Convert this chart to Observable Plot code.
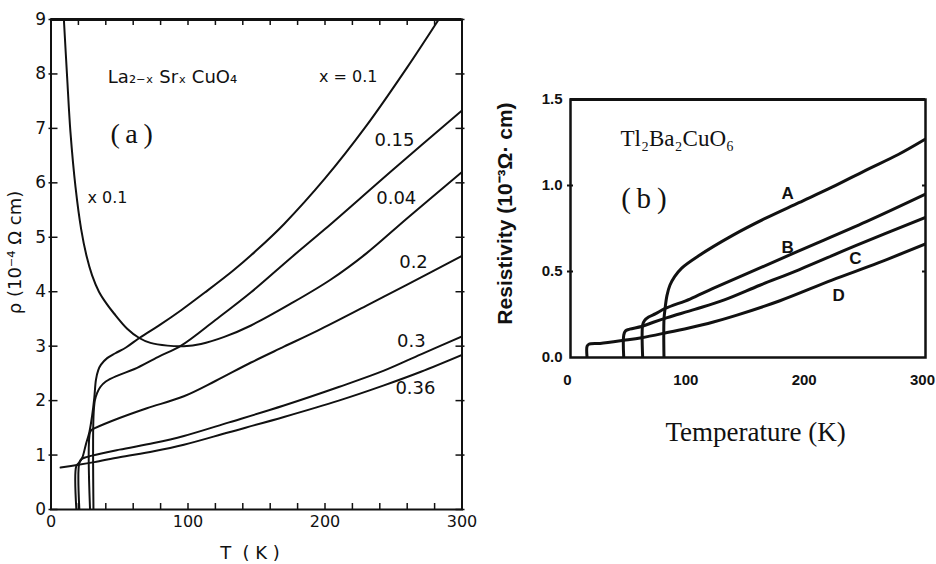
<!DOCTYPE html>
<html><head><meta charset="utf-8">
<script src="https://cdn.jsdelivr.net/npm/d3@7"></script>
<script src="https://cdn.jsdelivr.net/npm/@observablehq/plot@0.6"></script>
<style>
html,body{margin:0;padding:0;background:#fff;}
#wrap{position:relative;width:936px;height:564px;overflow:hidden;background:#fff;}
#pa{position:absolute;left:0;top:0;width:477px;height:564px;overflow:hidden;}
#pb{position:absolute;left:480px;top:0;width:456px;height:564px;overflow:hidden;}
</style></head><body>
<div id="wrap"><div id="pa"></div><div id="pb"></div></div>
<script>
// ---------- Panel (a): La2-xSrxCuO4, rho (10^-4 ohm cm) vs T (K) ----------
const seriesA = ["x=0.1", "0.15", "0.04", "0.2", "0.3", "0.36"];
const curveA_010 = [[18.5,0],[18.5,0.8],[20.5,0.86],[22.8,0.95],[25.5,1.2],[28,1.42],[30,1.72],[31.6,2.05],[32.8,2.38],[34.5,2.56],[36.5,2.66],[41,2.78],[47,2.87],[55,2.98],[65,3.16],[80,3.40],[95,3.66],[112,3.98],[133,4.39],[150,4.76],[170,5.24],[200,6.08],[230,7.04],[260,8.12],[283,9.0]];
const curveA_015 = [[31,0],[31,1.7],[32,2.0],[33.7,2.14],[36,2.25],[40,2.35],[48.6,2.46],[61,2.58],[78,2.8],[95,3.01],[120,3.48],[146,3.99],[175,4.62],[200,5.15],[250,6.25],[300,7.33]];
const curveA_004 = [[9.4,9.0],[11.8,7.93],[14.2,6.93],[17.9,5.92],[22,5.15],[26,4.65],[30,4.3],[35,4.0],[40,3.8],[46,3.6],[55.6,3.32],[64.4,3.15],[72.6,3.06],[85,3.01],[97,3.0],[109.5,3.04],[126.5,3.17],[146,3.38],[175,3.78],[204,4.22],[230,4.7],[260,5.35],[300,6.2]];
const curveA_020 = [[28.5,0],[28.5,1.42],[30,1.47],[31.6,1.49],[50,1.68],[70,1.86],[97,2.08],[120,2.36],[146,2.70],[170,2.99],[195,3.29],[230,3.74],[260,4.13],[300,4.66]];
const curveA_030 = [[20.7,0],[20.7,0.86],[22.5,0.93],[30,0.99],[50,1.1],[75,1.22],[97,1.35],[130,1.6],[170,1.91],[210,2.25],[243,2.55],[270,2.85],[300,3.18]];
const curveA_036 = [[7,0.77],[20,0.82],[31.6,0.87],[50,0.96],[75,1.07],[97,1.19],[130,1.42],[170,1.70],[210,2.0],[243,2.28],[270,2.53],[300,2.84]];
const curvesA = [curveA_010, curveA_015, curveA_004, curveA_020, curveA_030, curveA_036];
const tTicksA = [0, 100, 200, 300];
const tMinorA = d3.range(0, 301, 20);
const rhoTicksA = [0,1,2,3,4,5,6,7,8,9];

// ---------- Panel (b): Tl2Ba2CuO6, resistivity (10^-3 ohm cm) vs T (K) ----------
const seriesB = ["A", "B", "C", "D"];
const curveB_A = [[79,0],[79,0.22],[80,0.29],[81.5,0.36],[84,0.42],[88,0.47],[94,0.52],[108,0.59],[137,0.71],[165,0.81],[193,0.90],[221,0.99],[249,1.087],[277,1.18],[300,1.27]];
const curveB_B = [[61,0],[61,0.19],[62.5,0.215],[66,0.235],[72,0.255],[80,0.285],[101,0.34],[120,0.40],[150,0.49],[193,0.62],[250,0.79],[300,0.95]];
const curveB_C = [[45,0],[45,0.13],[46.5,0.155],[50,0.165],[60,0.18],[70,0.205],[81.7,0.232],[105,0.28],[130,0.335],[160,0.42],[193,0.51],[241,0.65],[300,0.815]];
const curveB_D = [[14,0],[14,0.065],[15.5,0.077],[25,0.082],[45,0.1],[60,0.115],[81.7,0.145],[100,0.172],[120,0.205],[140,0.245],[177,0.33],[221,0.45],[260,0.55],[300,0.66]];
const curvesB = [curveB_A, curveB_B, curveB_C, curveB_D];
const tTicksB = [0, 100, 200, 300];
const rhoTicksB = [0, 0.5, 1.0, 1.5];
const rhoMinorB = [0.5, 1.0];

const rowsA = seriesA.flatMap((s, i) => curvesA[i].map(([t, r]) => ({series: s, t, r})));
const rowsB = seriesB.flatMap((s, i) => curvesB[i].map(([t, r]) => ({series: s, t, r})));

const ink = "#111";
const sans = "DejaVu Sans";
const serif = "'Liberation Serif', 'DejaVu Serif', serif";

// panel (a) geometry
const A = {w: 477, h: 564, mt: 19, mr: 15.5, mb: 55, ml: 50.5};
const aPW = A.w - A.ml - A.mr, aPH = A.h - A.mt - A.mb;

const plotA = Plot.plot({
  width: A.w, height: A.h,
  marginTop: A.mt, marginRight: A.mr, marginBottom: A.mb, marginLeft: A.ml,
  x: {domain: [0, 300]}, y: {domain: [0, 9]},
  style: {fontFamily: sans, background: "white", color: ink},
  marks: [
    Plot.frame({stroke: ink, strokeWidth: 2}),
    Plot.ruleY([9], {stroke: ink, strokeWidth: 3}),
    Plot.tickX(tMinorA, {x: d => d, insetTop: aPH - 6, stroke: ink, strokeWidth: 1.5}),
    Plot.tickX(tMinorA, {x: d => d, insetBottom: aPH - 6, stroke: ink, strokeWidth: 1.5}),
    Plot.tickY(rhoTicksA, {y: d => d, insetLeft: -2, insetRight: aPW - 7, stroke: ink, strokeWidth: 1.5}),
    Plot.tickY(rhoTicksA, {y: d => d, insetLeft: aPW - 6, insetRight: -3, stroke: ink, strokeWidth: 1.5}),
    Plot.axisX(tTicksA, {tickSize: 0, tickPadding: 6, fontSize: 16, fontFamily: sans, tickFormat: d => String(d), label: null}),
    Plot.axisY(rhoTicksA, {tickSize: 0, tickPadding: 5, fontSize: 17, fontFamily: sans, tickFormat: d => String(d), label: null}),
    Plot.line(rowsA, {x: "t", y: "r", z: "series", curve: "catmull-rom", stroke: ink, strokeWidth: 2, clip: true}),
    Plot.text(["La₂₋ₓ Srₓ CuO₄"], {x: 88.7, y: 7.94, text: d => d, fontSize: 18, fontFamily: sans}),
    Plot.text(["(\u2009a\u2009)"], {x: 58.8, y: 6.9, text: d => d, fontSize: 28, fontFamily: serif}),
    Plot.text(["x 0.1"], {x: 41.2, y: 5.73, text: d => d, fontSize: 16, fontFamily: sans}),
    Plot.text(["x = 0.1"], {x: 217, y: 7.94, text: d => d, fontSize: 16, fontFamily: sans}),
    Plot.text(["0.15"], {x: 250.7, y: 6.78, text: d => d, fontSize: 18, fontFamily: sans}),
    Plot.text(["0.04"], {x: 252, y: 5.71, text: d => d, fontSize: 18, fontFamily: sans}),
    Plot.text(["0.2"], {x: 264.6, y: 4.54, text: d => d, fontSize: 18, fontFamily: sans}),
    Plot.text(["0.3"], {x: 263, y: 3.09, text: d => d, fontSize: 18, fontFamily: sans}),
    Plot.text(["0.36"], {x: 266, y: 2.22, text: d => d, fontSize: 18, fontFamily: sans}),
    Plot.text(["ρ (10⁻⁴ Ω cm)"], {frameAnchor: "left", textAnchor: "middle", lineAnchor: "middle", rotate: -90, dx: -35.5, dy: -12, text: d => d, fontSize: 18, fontFamily: sans}),
    Plot.text(["T  ( K )"], {frameAnchor: "bottom", textAnchor: "middle", lineAnchor: "middle", dx: -3 - (A.mr - 8.5) / 2, dy: 44, text: d => d, fontSize: 18, fontFamily: sans})
  ]
});
document.getElementById("pa").appendChild(plotA);

// panel (b) geometry
const B = {w: 456, h: 564, mt: 99, mr: 11, mb: 207, ml: 90};
const bPW = B.w - B.ml - B.mr, bPH = B.h - B.mt - B.mb;
const bsans = "Liberation Sans";

const plotB = Plot.plot({
  width: B.w, height: B.h,
  marginTop: B.mt, marginRight: B.mr, marginBottom: B.mb, marginLeft: B.ml,
  x: {domain: [0, 300]}, y: {domain: [0, 1.5]},
  style: {fontFamily: bsans, background: "white", color: ink},
  marks: [
    Plot.frame({stroke: ink, strokeWidth: 2.5}),
    Plot.ruleY([1.5], {stroke: ink, strokeWidth: 3}),
    Plot.tickY(rhoMinorB, {y: d => d, insetLeft: -3, insetRight: bPW - 3, stroke: ink, strokeWidth: 2}),
    Plot.tickY(rhoMinorB, {y: d => d, insetLeft: bPW - 3, insetRight: 0, stroke: ink, strokeWidth: 2}),
    Plot.axisX(tTicksB, {tickSize: 0, tickPadding: 17, dx: -3, fontSize: 15, fontWeight: "bold", fontFamily: bsans, tickFormat: d => String(d), label: null}),
    Plot.axisY(rhoTicksB, {tickSize: 0, tickPadding: 8, fontSize: 15, fontWeight: "bold", fontFamily: bsans, tickFormat: d3.format(".1f"), label: null}),
    Plot.line(rowsB, {x: "t", y: "r", z: "series", curve: "catmull-rom", stroke: ink, strokeWidth: 3, clip: true}),
    Plot.text(["Tl₂Ba₂CuO₆"], {x: 42.3, y: 1.273, textAnchor: "start", text: d => d, fontSize: 23, fontFamily: serif, fill: ink}),
    Plot.text(["(\u2009b\u2009)"], {x: 62, y: 0.924, text: d => d, fontSize: 29, fontFamily: serif}),
    Plot.text(["A"], {x: 183.4, y: 0.953, text: d => d, fontSize: 17, fontWeight: "bold", fontFamily: bsans}),
    Plot.text(["B"], {x: 183.4, y: 0.64, text: d => d, fontSize: 17, fontWeight: "bold", fontFamily: bsans}),
    Plot.text(["C"], {x: 240.8, y: 0.576, text: d => d, fontSize: 17, fontWeight: "bold", fontFamily: bsans}),
    Plot.text(["D"], {x: 226.5, y: 0.36, text: d => d, fontSize: 17, fontWeight: "bold", fontFamily: bsans}),
    Plot.text(["Resistivity (10⁻³Ω· cm)"], {frameAnchor: "left", textAnchor: "middle", lineAnchor: "middle", rotate: -90, dx: -65, dy: -15, text: d => d, fontSize: 21, fontWeight: "bold", fontFamily: bsans}),
    Plot.text(["Temperature (K)"], {frameAnchor: "bottom", textAnchor: "middle", lineAnchor: "middle", dx: 7.5, dy: 75, text: d => d, fontSize: 27, fontFamily: serif})
  ]
});
document.getElementById("pb").appendChild(plotB);
</script>
</body></html>
